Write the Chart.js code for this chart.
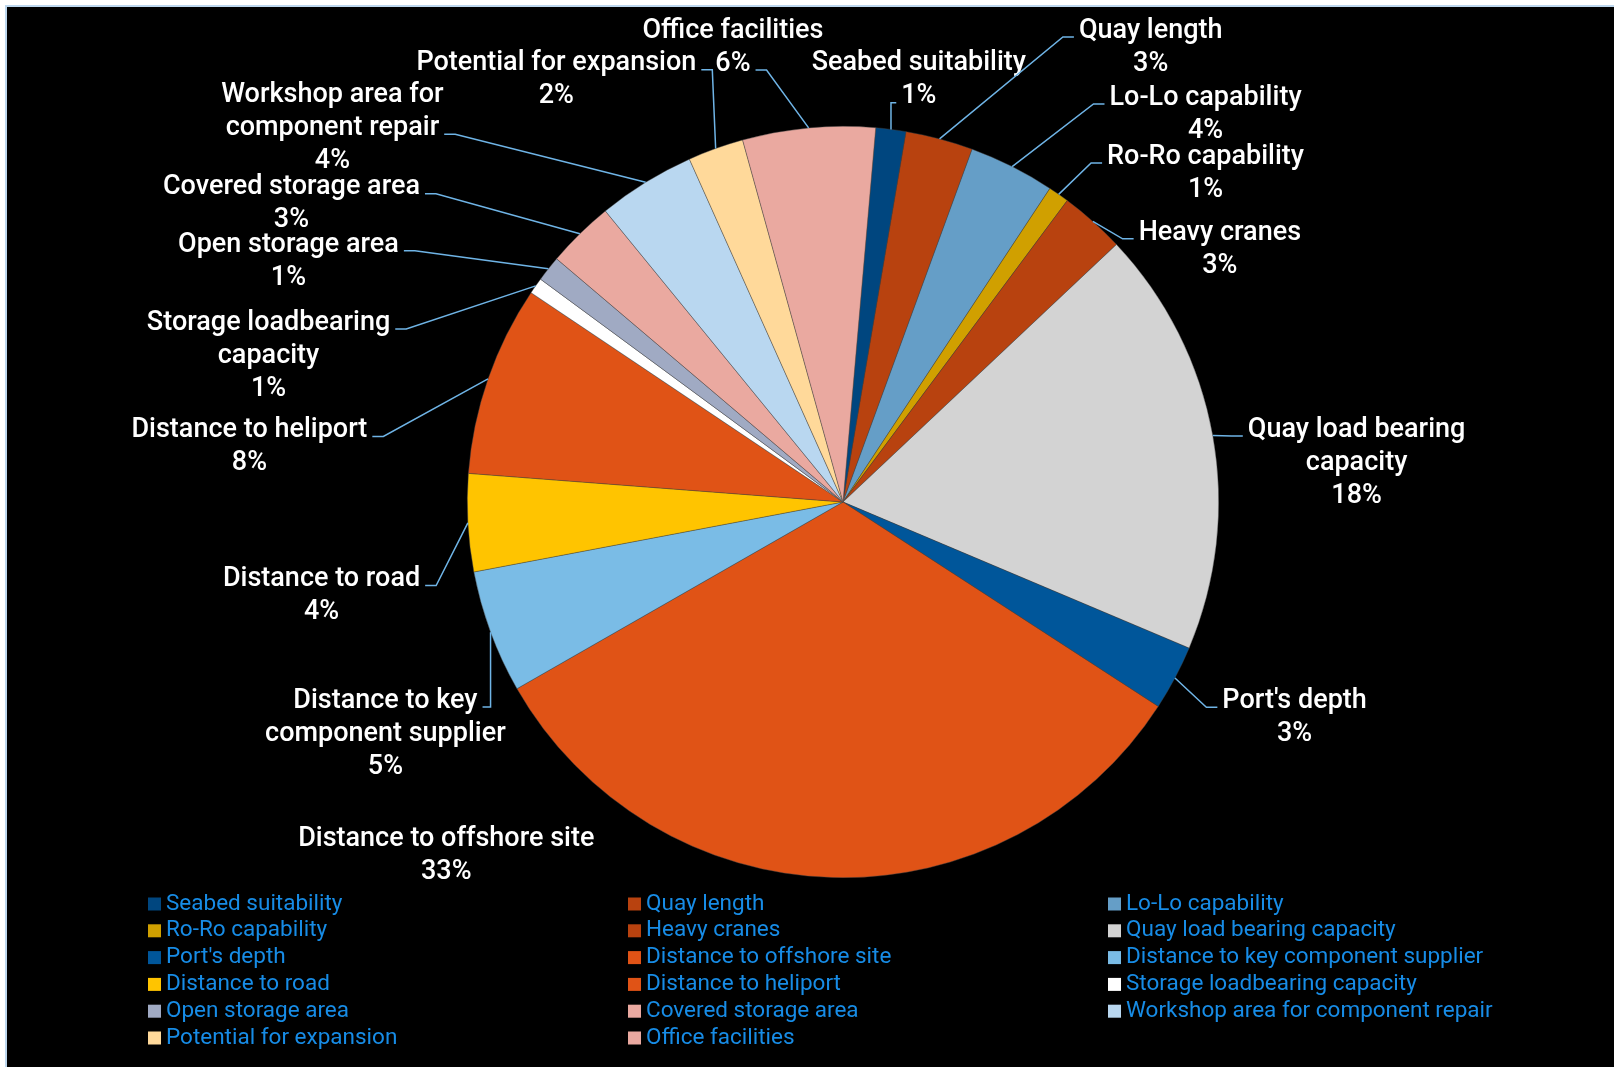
<!DOCTYPE html>
<html>
<head>
<meta charset="utf-8">
<script src="https://cdn.jsdelivr.net/npm/chart.js@4.4.0/dist/chart.umd.min.js"></script>
<style>
  html, body { margin: 0; padding: 0; background: #fff; }
  #frame {
    position: absolute; left: 5px; top: 5px;
    width: 1607px; height: 1060px;
    border-left: 2px solid #bdd7ee; border-top: 2px solid #bdd7ee;
    background: #000;
  }
  canvas { display: block; }
</style>
</head>
<body>
<div id="frame"><canvas id="pie" width="1607" height="1060"></canvas></div>
<script>
// categories, in slice order (clockwise from the top)
var categories = [
  "Seabed suitability", "Quay length", "Lo-Lo capability", "Ro-Ro capability",
  "Heavy cranes", "Quay load bearing capacity", "Port's depth",
  "Distance to offshore site", "Distance to key component supplier",
  "Distance to road", "Distance to heliport", "Storage loadbearing capacity",
  "Open storage area", "Covered storage area", "Workshop area for component repair",
  "Potential for expansion", "Office facilities"
];

// share of each factor (%)
var shares = [1.3, 2.9, 3.7, 0.9, 2.8, 18.4, 2.8, 32.6, 5.3, 4.2, 8.2, 0.7, 1.1, 2.9, 4.2, 2.4, 5.7];

var sliceColors = [
  "#00467f", "#b8420f", "#659ec7", "#d0a000", "#b8420f", "#d3d3d3", "#00569a",
  "#e05316", "#7abce6", "#ffc400", "#e05316", "#ffffff", "#a0aac3", "#eaa9a0",
  "#b9d7f0", "#ffd99a", "#eaa9a0"
];

// how the data labels wrap
var wrapped = {
  5: "Quay load bearing\ncapacity",
  8: "Distance to key\ncomponent supplier",
  11: "Storage loadbearing\ncapacity",
  14: "Workshop area for\ncomponent repair"
};

// label placement, relative to the pie centre in units of the radius
var labelLayout = [
  { dx: 0.202, dy: -1.128 }, { dx: 0.819, dy: -1.215 }, { dx: 0.965, dy: -1.037 },
  { dx: 0.965, dy: -0.880 }, { dx: 1.003, dy: -0.678 }, { dx: 1.367, dy: -0.109 },
  { dx: 1.202, dy: 0.569 }, { dx: -1.056, dy: 0.936, leader: false },
  { dx: -1.218, dy: 0.612 }, { dx: -1.388, dy: 0.245 }, { dx: -1.580, dy: -0.152 },
  { dx: -1.529, dy: -0.394 }, { dx: -1.476, dy: -0.646 }, { dx: -1.468, dy: -0.798 },
  { dx: -1.359, dy: -1.000, line: 1 }, { dx: -0.763, dy: -1.128 }, { dx: -0.293, dy: -1.215 }
];

const sliceLabels = {
  id: "sliceLabels",
  afterDatasetsDraw(chart) {
    const ctx = chart.ctx;
    const arcs = chart.getDatasetMeta(0).data;
    const total = shares.reduce((a, b) => a + b, 0);
    const lh = 33;
    ctx.save();
    ctx.font = "500 27px Roboto";
    ctx.textAlign = "center";
    ctx.textBaseline = "middle";
    ctx.strokeStyle = "#6fb4e6";
    ctx.lineWidth = 1.5;
    arcs.forEach((arc, i) => {
      const p = arc.getProps(["x", "y", "startAngle", "endAngle", "outerRadius"], true);
      const mid = (p.startAngle + p.endAngle) / 2;
      const ax = p.x + Math.cos(mid) * p.outerRadius;
      const ay = p.y + Math.sin(mid) * p.outerRadius;
      const lay = labelLayout[i];
      const cx = p.x + lay.dx * p.outerRadius;
      const cy = p.y + lay.dy * p.outerRadius;
      const lines = (wrapped[i] || categories[i]).split("\n");
      lines.push(Math.round(shares[i] / total * 100) + "%");
      const y0 = cy - (lines.length - 1) / 2 * lh;

      if (lay.leader !== false) {
        const left = cx < ax; // label sits left of its slice -> join at right edge
        let k = lay.line;
        if (k === undefined) {
          k = lines.findIndex(t => {
            const w = ctx.measureText(t).width;
            return left ? cx + w / 2 < ax : cx - w / 2 > ax;
          });
          if (k < 0) k = 0;
        }
        const w = ctx.measureText(lines[k]).width;
        const ty = y0 + k * lh + 8;
        const tx = left ? cx + w / 2 + 5 : cx - w / 2 - 5;
        const ex = left ? Math.min(ax, tx + 11) : Math.max(ax, tx - 11);
        ctx.beginPath();
        ctx.moveTo(ax, ay);
        ctx.lineTo(ex, ty);
        ctx.lineTo(tx, ty);
        ctx.stroke();
      }
      ctx.fillStyle = "#fff";
      lines.forEach((t, j) => ctx.fillText(t, cx, y0 + j * lh + 2));
    });
    ctx.restore();
  }
};

// legend in three columns, filled row by row
const gridLegend = {
  id: "gridLegend",
  afterDraw(chart) {
    const ctx = chart.ctx;
    const colX = [141, 621, 1101];
    const rowY = 897, rowH = 26.8;
    ctx.save();
    ctx.font = "22.5px Roboto";
    ctx.textAlign = "left";
    ctx.textBaseline = "middle";
    categories.forEach((name, i) => {
      const x = colX[i % 3];
      const y = rowY + Math.floor(i / 3) * rowH;
      ctx.fillStyle = sliceColors[i];
      ctx.fillRect(x, y - 6.5, 13, 13);
      ctx.fillStyle = "#178ce6";
      ctx.fillText(name, x + 18, y);
    });
    ctx.restore();
  }
};

const grafik = document.getElementById("pie").getContext("2d");
new Chart(grafik, {
  type: "pie",
  data: {
    labels: categories,
    datasets: [{
      data: shares,
      backgroundColor: sliceColors,
      borderColor: "rgba(70,70,70,0.7)",
      borderWidth: 0.6
    }]
  },
  options: {
    responsive: false,
    animation: false,
    rotation: 5,
    layout: { padding: { left: 460, right: 395, top: 119, bottom: 189 } },
    plugins: {
      legend: { display: false },
      tooltip: { enabled: false }
    }
  },
  plugins: [sliceLabels, gridLegend]
});
</script>
</body>
</html>
